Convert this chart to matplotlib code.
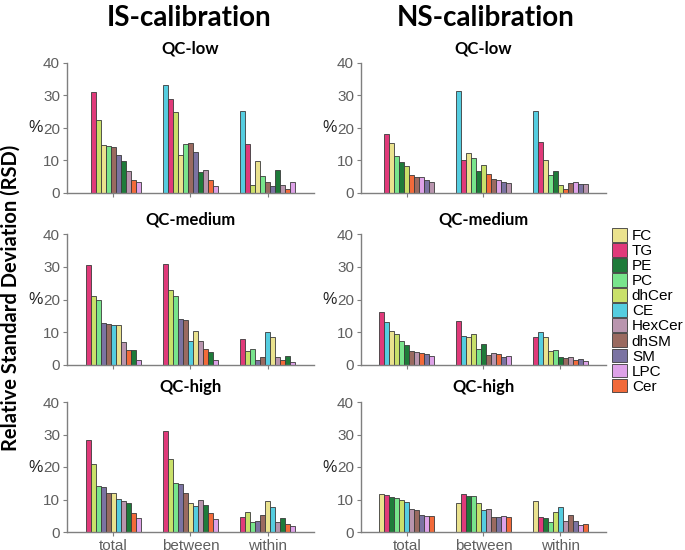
import matplotlib
matplotlib.use("Agg")
import matplotlib.pyplot as plt
import numpy as np
from matplotlib.patches import Patch

nan = np.nan

groups = ["total", "between", "within"]
classes = ["FC", "TG", "PE", "PC", "dhCer", "CE", "HexCer", "dhSM", "SM", "LPC", "Cer"]
colors = {
    "FC": "#eae28e", "TG": "#e03a7a", "PE": "#1e7b3a", "PC": "#78e48c",
    "dhCer": "#c9e06a", "CE": "#55cde0", "HexCer": "#b995ae", "dhSM": "#9a6a60",
    "SM": "#7b73a2", "LPC": "#dea2e8", "Cer": "#f26a3a",
}

# bar order inside each panel (same for the three groups); nan = above 40, not shown
is_low_order = ["CE", "TG", "dhCer", "FC", "PC", "dhSM", "SM", "PE", "HexCer", "Cer", "LPC"]
is_low_total = [nan, 31.0, 22.4, 14.8, 14.5, 14.0, 11.7, 9.7, 6.9, 4.1, 3.4]
is_low_between = [33.2, 28.9, 24.8, 11.7, 15.1, 15.3, 12.7, 6.4, 7.2, 4.1, 2.1]
is_low_within = [25.2, 15.1, 2.6, 9.9, 5.3, 3.3, 2.2, 7.2, 2.6, 1.1, 3.3]

ns_low_order = ["CE", "TG", "FC", "PC", "PE", "dhCer", "Cer", "dhSM", "LPC", "SM", "HexCer"]
ns_low_total = [nan, 18.0, 15.3, 11.4, 9.4, 8.2, 5.4, 4.8, 4.8, 3.9, 3.5]
ns_low_between = [31.3, 10.1, 12.4, 10.7, 6.9, 8.5, 5.8, 4.2, 3.9, 3.3, 3.0]
ns_low_within = [25.2, 15.6, 10.0, 5.5, 6.8, 2.6, 1.3, 3.0, 3.3, 2.7, 2.7]

is_med_order = ["TG", "dhCer", "PC", "SM", "dhSM", "CE", "FC", "HexCer", "Cer", "PE", "LPC"]
is_med_total = [30.5, 21.0, 19.7, 12.8, 12.6, 12.2, 12.2, 7.0, 4.6, 4.6, 1.6]
is_med_between = [30.7, 22.9, 21.1, 14.0, 13.6, 7.2, 10.3, 7.4, 4.8, 3.9, 1.4]
is_med_within = [7.9, 4.2, 4.8, 1.6, 2.3, 10.1, 8.5, 2.4, 1.4, 2.7, 1.0]

ns_med_order = ["TG", "CE", "FC", "dhCer", "PC", "PE", "dhSM", "HexCer", "Cer", "SM", "LPC"]
ns_med_total = [16.3, 13.0, 10.4, 9.4, 7.2, 6.1, 4.3, 4.1, 3.6, 3.4, 2.8]
ns_med_between = [13.3, 8.8, 8.4, 9.6, 4.8, 6.4, 3.1, 3.7, 3.5, 2.4, 2.8]
ns_med_within = [8.6, 10.2, 8.5, 4.2, 4.5, 2.4, 2.2, 2.3, 1.5, 1.7, 1.2]

is_high_order = ["TG", "dhCer", "PC", "SM", "dhSM", "FC", "CE", "HexCer", "PE", "Cer", "LPC"]
is_high_total = [28.4, 20.8, 14.2, 13.7, 12.0, 11.9, 10.3, 9.5, 9.0, 6.0, 4.2]
is_high_between = [31.0, 22.4, 15.0, 14.7, 12.0, 8.9, 8.0, 9.9, 8.3, 5.8, 4.0]
is_high_within = [4.5, 6.3, 3.2, 3.5, 5.2, 9.4, 7.8, 3.2, 4.2, 2.5, 1.7]

ns_high_order = ["FC", "TG", "PE", "PC", "dhCer", "CE", "HexCer", "dhSM", "SM", "LPC", "Cer"]
ns_high_total = [11.7, 11.4, 10.7, 10.5, 9.7, 9.1, 7.0, 6.8, 5.2, 4.9, 4.8]
ns_high_between = [8.9, 11.6, 11.1, 11.1, 9.0, 6.8, 7.0, 4.5, 4.7, 4.8, 4.5]
ns_high_within = [9.4, 4.7, 4.3, 3.2, 6.1, 7.6, 3.4, 5.2, 3.4, 2.1, 2.5]

panels = [
    [("QC-low", is_low_order, [is_low_total, is_low_between, is_low_within]),
     ("QC-low", ns_low_order, [ns_low_total, ns_low_between, ns_low_within])],
    [("QC-medium", is_med_order, [is_med_total, is_med_between, is_med_within]),
     ("QC-medium", ns_med_order, [ns_med_total, ns_med_between, ns_med_within])],
    [("QC-high", is_high_order, [is_high_total, is_high_between, is_high_within]),
     ("QC-high", ns_high_order, [ns_high_total, ns_high_between, ns_high_within])],
]

W, H = 685, 550
fig = plt.figure(figsize=(W / 100, H / 100), dpi=100)

col_x = [(67, 314), (361, 606)]
row_y = [(63, 193), (234, 365), (402, 532)]
grey = "#5f5f5f"
bold_font = "Lato"
text_font = "Liberation Sans"

n = len(classes)
bw = 0.72 / n
for r, row in enumerate(panels):
    for c, (title, order, vals) in enumerate(row):
        x0, x1 = col_x[c]
        y0, y1 = row_y[r]
        ax = fig.add_axes([x0 / W, 1 - y1 / H, (x1 - x0) / W, (y1 - y0) / H])
        for g, v in enumerate(vals):
            xs = g + (np.arange(n) - (n - 1) / 2) * bw
            ax.bar(xs, v, width=bw, color=[colors[k] for k in order],
                   edgecolor="#3a3a3a", linewidth=0.6)
        ax.set_xlim(-0.6, 2.6)
        ax.set_ylim(0, 40)
        ax.set_yticks([0, 10, 20, 30, 40])
        ax.set_xticks(range(3))
        if r == 2:
            ax.set_xticklabels(groups)
        else:
            ax.set_xticklabels([])
        for s in ["top", "right"]:
            ax.spines[s].set_visible(False)
        for s in ["left", "bottom"]:
            ax.spines[s].set_color("#7f7f7f")
            ax.spines[s].set_linewidth(1.0)
        ax.tick_params(colors="#7f7f7f", labelcolor=grey, labelsize=11, length=3, width=0.8, pad=2)
        for lab in ax.get_xticklabels() + ax.get_yticklabels():
            lab.set_fontfamily(text_font)
        ax.set_ylabel("%", rotation=0, fontsize=11.5, family=text_font, color="#222222",
                      ha="center", va="center")
        ax.yaxis.set_label_coords(-0.128, 0.5)
        ax.set_title(title, fontsize=12, fontweight="bold", family=bold_font, pad=7)

fig.text(189 / W, 1 - 18 / H, "IS-calibration", ha="center", va="center",
         fontsize=20, fontweight="bold", family=bold_font)
fig.text(486 / W, 1 - 18 / H, "NS-calibration", ha="center", va="center",
         fontsize=20, fontweight="bold", family=bold_font)
fig.text(11 / W, 1 - 298 / H, "Relative Standard Deviation (RSD)", rotation=90,
         ha="center", va="center", fontsize=14.5, fontweight="bold", family=bold_font)

handles = [Patch(facecolor=colors[k], edgecolor="#3a3a3a", linewidth=0.6) for k in classes]
fig.legend(handles, classes, loc="upper left", bbox_to_anchor=(612 / W, 1 - 228 / H),
           frameon=False, prop={"family": text_font, "size": 11},
           handlelength=1.0, handleheight=1.0, labelspacing=0.0,
           handletextpad=0.3, borderpad=0, borderaxespad=0)

fig.savefig("out.png", dpi=100)
